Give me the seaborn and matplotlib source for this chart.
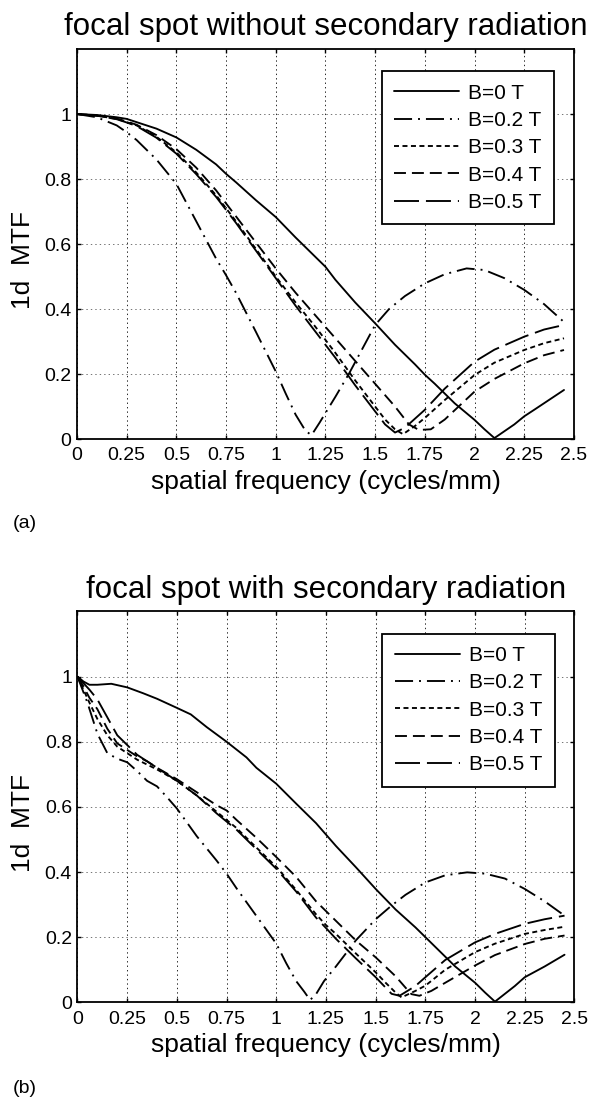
import numpy as np
import pandas as pd
import seaborn as sns
import matplotlib.pyplot as plt

labels = ['B=0 T', 'B=0.2 T', 'B=0.3 T', 'B=0.4 T', 'B=0.5 T']
titles = ['focal spot without secondary radiation', 'focal spot with secondary radiation']
tags = ['(a)', '(b)']
x_ticks = [0, 0.25, 0.5, 0.75, 1, 1.25, 1.5, 1.75, 2, 2.25, 2.5]
x_ticklabels = ['0', '0.25', '0.5', '0.75', '1', '1.25', '1.5', '1.75', '2', '2.25', '2.5']
y_ticks = [0, 0.2, 0.4, 0.6, 0.8, 1.0]
y_ticklabels = ['0', '0.2', '0.4', '0.6', '0.8', '1']

# (a) without secondary radiation
xa_b0 = [0, 0.1, 0.2, 0.25, 0.3, 0.4, 0.5, 0.6, 0.7, 0.75, 0.8, 0.9, 1.0, 1.1, 1.2, 1.25, 1.3, 1.4, 1.5,
         1.6, 1.7, 1.75, 1.8, 1.9, 2.0, 2.05, 2.1, 2.2, 2.25, 2.3, 2.45]
ya_b0 = [1.0, 0.997, 0.99, 0.985, 0.975, 0.955, 0.928, 0.89, 0.845, 0.816, 0.79, 0.735, 0.683, 0.62, 0.56,
         0.53, 0.49, 0.42, 0.356, 0.29, 0.23, 0.198, 0.17, 0.11, 0.059, 0.03, 0.003, 0.045, 0.07, 0.09, 0.151]
xa_b2 = [0, 0.1, 0.2, 0.25, 0.3, 0.4, 0.5, 0.6, 0.7, 0.75, 0.8, 0.9, 1.0, 1.05, 1.1, 1.15, 1.18, 1.22, 1.3,
         1.37, 1.5, 1.57, 1.65, 1.75, 1.85, 1.96, 2.05, 2.15, 2.25, 2.35, 2.45]
ya_b2 = [1.0, 0.99, 0.965, 0.944, 0.92, 0.86, 0.785, 0.67, 0.555, 0.504, 0.45, 0.33, 0.208, 0.14, 0.075,
         0.025, 0.012, 0.05, 0.13, 0.203, 0.351, 0.40, 0.44, 0.479, 0.507, 0.525, 0.52, 0.495, 0.459, 0.415, 0.36]
xa_b3 = [0, 0.1, 0.2, 0.25, 0.3, 0.4, 0.5, 0.6, 0.7, 0.75, 0.8, 0.9, 1.0, 1.1, 1.2, 1.3, 1.4, 1.5, 1.55,
         1.6, 1.64, 1.7, 1.75, 1.85, 2.0, 2.1, 2.25, 2.35, 2.45]
ya_b3 = [1.0, 0.995, 0.985, 0.975, 0.965, 0.93, 0.882, 0.82, 0.75, 0.71, 0.67, 0.585, 0.5, 0.42, 0.345,
         0.265, 0.18, 0.1, 0.06, 0.03, 0.015, 0.04, 0.065, 0.12, 0.197, 0.235, 0.274, 0.295, 0.31]
xa_b4 = [0, 0.1, 0.2, 0.25, 0.3, 0.4, 0.5, 0.6, 0.7, 0.75, 0.8, 0.9, 1.0, 1.1, 1.2, 1.3, 1.4, 1.5, 1.6,
         1.67, 1.72, 1.78, 1.85, 2.0, 2.1, 2.25, 2.35, 2.45]
ya_b4 = [1.0, 0.995, 0.986, 0.977, 0.967, 0.935, 0.892, 0.835, 0.765, 0.725, 0.685, 0.605, 0.525, 0.45,
         0.38, 0.31, 0.24, 0.17, 0.1, 0.045, 0.028, 0.03, 0.06, 0.146, 0.185, 0.233, 0.258, 0.274]
xa_b5 = [0, 0.1, 0.2, 0.25, 0.3, 0.4, 0.5, 0.6, 0.7, 0.75, 0.8, 0.9, 1.0, 1.1, 1.2, 1.3, 1.4, 1.5, 1.55,
         1.6, 1.65, 1.75, 1.85, 2.0, 2.1, 2.25, 2.35, 2.45]
ya_b5 = [1.0, 0.995, 0.984, 0.974, 0.963, 0.927, 0.878, 0.815, 0.745, 0.705, 0.665, 0.58, 0.495, 0.41,
         0.33, 0.25, 0.165, 0.085, 0.045, 0.02, 0.035, 0.09, 0.155, 0.238, 0.275, 0.315, 0.337, 0.351]

# (b) with secondary radiation
xb_b0 = [0, 0.03, 0.06, 0.1, 0.17, 0.25, 0.33, 0.4, 0.5, 0.57, 0.65, 0.75, 0.85, 0.9, 1.0, 1.1, 1.2, 1.3,
         1.4, 1.5, 1.6, 1.7, 1.75, 1.8, 1.9, 2.0, 2.05, 2.1, 2.2, 2.25, 2.35, 2.45]
yb_b0 = [1.0, 0.985, 0.975, 0.975, 0.978, 0.967, 0.949, 0.932, 0.904, 0.884, 0.845, 0.8, 0.752, 0.72, 0.671,
         0.61, 0.55, 0.48, 0.415, 0.348, 0.285, 0.23, 0.2, 0.17, 0.11, 0.06, 0.03, 0.002, 0.05, 0.077, 0.11, 0.146]
xb_b2 = [0, 0.05, 0.1, 0.15, 0.2, 0.25, 0.3, 0.35, 0.4, 0.45, 0.5, 0.6, 0.7, 0.75, 0.8, 0.9, 1.0, 1.05, 1.1,
         1.14, 1.17, 1.2, 1.24, 1.3, 1.4, 1.5, 1.58, 1.65, 1.75, 1.85, 1.96, 2.05, 2.15, 2.25, 2.35, 2.45]
yb_b2 = [1.0, 0.92, 0.825, 0.765, 0.748, 0.737, 0.71, 0.68, 0.663, 0.63, 0.595, 0.51, 0.435, 0.395, 0.35,
         0.265, 0.18, 0.12, 0.065, 0.033, 0.007, 0.025, 0.065, 0.11, 0.19, 0.255, 0.297, 0.33, 0.368, 0.39,
         0.399, 0.395, 0.38, 0.348, 0.31, 0.266]
xb_b3 = [0, 0.03, 0.06, 0.1, 0.15, 0.2, 0.25, 0.3, 0.35, 0.4, 0.5, 0.6, 0.7, 0.75, 0.8, 0.9, 1.0, 1.1, 1.2,
         1.25, 1.3, 1.4, 1.5, 1.55, 1.6, 1.63, 1.7, 1.75, 1.85, 2.0, 2.1, 2.25, 2.35, 2.45]
yb_b3 = [1.0, 0.96, 0.92, 0.87, 0.82, 0.785, 0.765, 0.745, 0.73, 0.715, 0.68, 0.635, 0.585, 0.56, 0.535,
         0.475, 0.416, 0.345, 0.27, 0.237, 0.21, 0.15, 0.092, 0.06, 0.03, 0.015, 0.035, 0.051, 0.1, 0.154,
         0.18, 0.21, 0.222, 0.232]
xb_b4 = [0, 0.03, 0.06, 0.1, 0.15, 0.2, 0.25, 0.3, 0.35, 0.4, 0.5, 0.6, 0.7, 0.75, 0.8, 0.9, 1.0, 1.1, 1.2,
         1.25, 1.3, 1.4, 1.5, 1.6, 1.65, 1.68, 1.72, 1.78, 1.85, 2.0, 2.1, 2.25, 2.35, 2.45]
yb_b4 = [1.0, 0.97, 0.935, 0.9, 0.84, 0.795, 0.775, 0.755, 0.74, 0.72, 0.685, 0.645, 0.605, 0.589, 0.56,
         0.505, 0.446, 0.385, 0.31, 0.28, 0.25, 0.19, 0.138, 0.08, 0.045, 0.025, 0.02, 0.035, 0.06, 0.113,
         0.145, 0.179, 0.195, 0.205]
xb_b5 = [0, 0.03, 0.06, 0.1, 0.15, 0.2, 0.25, 0.3, 0.35, 0.4, 0.5, 0.6, 0.7, 0.75, 0.8, 0.9, 1.0, 1.1, 1.2,
         1.25, 1.3, 1.4, 1.5, 1.55, 1.58, 1.62, 1.7, 1.75, 1.85, 2.0, 2.1, 2.25, 2.35, 2.45]
yb_b5 = [1.0, 0.98, 0.96, 0.93, 0.875, 0.82, 0.79, 0.76, 0.74, 0.72, 0.68, 0.635, 0.58, 0.555, 0.53, 0.47,
         0.41, 0.34, 0.26, 0.228, 0.195, 0.135, 0.077, 0.045, 0.026, 0.02, 0.05, 0.077, 0.13, 0.184, 0.21,
         0.241, 0.255, 0.266]

panels = [
    [(xa_b0, ya_b0), (xa_b2, ya_b2), (xa_b3, ya_b3), (xa_b4, ya_b4), (xa_b5, ya_b5)],
    [(xb_b0, yb_b0), (xb_b2, yb_b2), (xb_b3, yb_b3), (xb_b4, yb_b4), (xb_b5, yb_b5)],
]

line_dashes = {'B=0 T': '', 'B=0.2 T': (13, 4.3, 1.4, 4.3), 'B=0.3 T': (3.6, 2.5),
               'B=0.4 T': (8.6, 4.3), 'B=0.5 T': (18, 5)}

sns.set_style('ticks')
plt.rcParams['font.family'] = ['Liberation Sans', 'DejaVu Sans']
plt.rcParams['lines.scale_dashes'] = False
plt.rcParams['text.color'] = 'black'
plt.rcParams['axes.labelcolor'] = 'black'

fig = plt.figure(figsize=(5.92, 10.99), dpi=100)
rects = [[0.130, 0.6005, 0.8395, 0.3549], [0.1309, 0.088, 0.8395, 0.3556]]
tag_y = [0.524, 0.010]

for i in range(2):
    frames = []
    for lab, (xs, ys) in zip(labels, panels[i]):
        frames.append(pd.DataFrame({'f': xs, 'mtf': ys, 'B': lab}))
    df = pd.concat(frames, ignore_index=True)

    ax = fig.add_axes(rects[i])
    sns.lineplot(data=df, x='f', y='mtf', style='B', style_order=labels, dashes=line_dashes,
                 color='black', lw=1.35, sort=False, estimator=None, legend=False, ax=ax)
    ax.set_xlim(0, 2.5)
    ax.set_ylim(0, 1.2)
    ax.set_xticks(x_ticks, x_ticklabels)
    ax.set_yticks(y_ticks, y_ticklabels)
    ax.tick_params(direction='in', length=3, width=1, top=True, right=True, labelsize=14, colors='black')
    ax.tick_params(axis='x', pad=6)
    ax.tick_params(axis='y', pad=4)
    ax.grid(True, axis='x', color='0.15', ls=(0, (1, 2.2)), lw=0.7)
    ax.grid(True, axis='y', color='0.45', ls=(0, (1, 2.2)), lw=0.7)
    for sp in ax.spines.values():
        sp.set_visible(True)
        sp.set_color('black')
        sp.set_linewidth(1.3)

    ax.set_title(titles[i], fontsize=22.5, pad=10)
    ax.set_xlabel('spatial frequency (cycles/mm)', fontsize=19, labelpad=4)
    ax.set_ylabel('1d  MTF', fontsize=19)
    ax.yaxis.set_label_coords(-0.085, 0.459)

    leg = ax.legend(ax.lines[:5], labels, loc='upper right', bbox_to_anchor=(0.9604, 0.9436),
                    fontsize=15, handlelength=3.1, handletextpad=0.45, borderpad=0.6,
                    labelspacing=0.4, frameon=True, fancybox=False, framealpha=1,
                    edgecolor='black', borderaxespad=0)
    leg.get_frame().set_linewidth(1.3)

    fig.text(0.022, tag_y[i], tags[i], fontsize=14, va='center')

fig.savefig('out.png', dpi=100)
